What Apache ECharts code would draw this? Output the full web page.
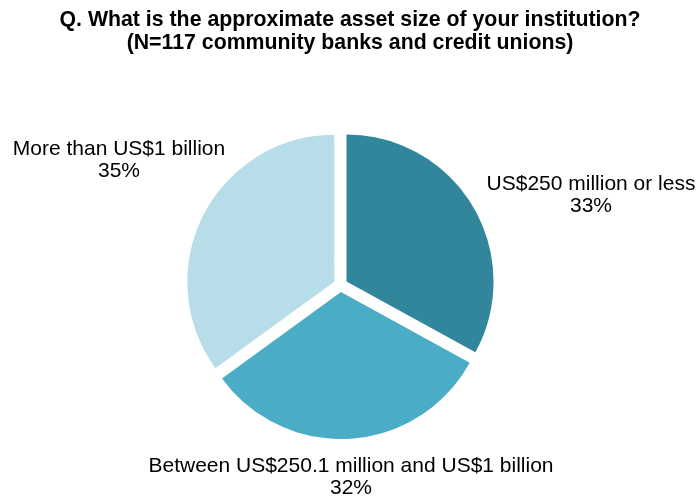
<!DOCTYPE html>
<html>
<head>
<meta charset="utf-8">
<script src="https://cdn.jsdelivr.net/npm/echarts@6/dist/echarts.min.js"></script>
<style>
  html, body { margin: 0; padding: 0; background: #fff; }
  #chart { width: 700px; height: 498px; }
</style>
</head>
<body>
<div id="chart"></div>
<script>
// Asset size of responding institutions (share of respondents, %)
const categories = [
  'US$250 million or less',
  'Between US$250.1 million and US$1 billion',
  'More than US$1 billion'
];
const shares = [33, 32, 35];
const sliceColors = ['#31869B', '#4BACC6', '#B7DEE8'];
const titleLines = [
  'Q. What is the approximate asset size of your institution?',
  '(N=117 community banks and credit unions)'
];
// Label anchor points (centre of each two-line label)
const labelAnchors = [[591, 195], [351, 477], [119, 160]];

const PIE_CENTER = [340.5, 285];
const EXPLODE = 7;

// Offset each exploded slice (and its label) is pushed by, along its mid-angle
const total = shares.reduce((s, v) => s + v, 0);
let acc = 0;
const sliceShift = shares.map(v => {
  const mid = (acc + v / 2) / total * 2 * Math.PI; // clockwise from 12 o'clock
  acc += v;
  return [EXPLODE * Math.sin(mid), -EXPLODE * Math.cos(mid)];
});

const chart = echarts.init(document.getElementById('chart'), null, { renderer: 'canvas' });

chart.setOption({
  animation: false,
  backgroundColor: '#ffffff',
  title: {
    text: titleLines.join('\n'),
    left: 'center',
    top: 4,
    textStyle: {
      fontFamily: 'Liberation Sans, Arial, sans-serif',
      fontSize: 21.3,
      fontWeight: 'bold',
      color: '#000',
      lineHeight: 23
    }
  },
  series: [{
    type: 'pie',
    center: PIE_CENTER,
    radius: 147,
    startAngle: 90,
    clockwise: true,
    selectedMode: 'multiple',
    selectedOffset: EXPLODE,
    emphasis: { disabled: true },
    itemStyle: { borderWidth: 0 },
    label: {
      show: true,
      position: 'outside',
      formatter: p => p.name + '\n' + p.value + '%',
      fontFamily: 'Liberation Sans, Arial, sans-serif',
      fontSize: 21,
      lineHeight: 22,
      color: '#000',
      overflow: 'none'
    },
    labelLine: { show: false },
    // centre each label's text on its anchor point
    labelLayout: p => {
      const r = p.labelRect;
      const a = labelAnchors[p.dataIndex];
      const s = sliceShift[p.dataIndex];
      const side = p.align || ((r.x + r.width / 2) < PIE_CENTER[0] ? 'right' : 'left');
      const anchorX = side === 'right' ? r.x + r.width
        : side === 'left' ? r.x : r.x + r.width / 2;
      return {
        align: 'center',
        dx: a[0] - anchorX - s[0],
        dy: a[1] - (r.y + r.height / 2) - s[1]
      };
    },
    data: categories.map((name, i) => ({
      name: name,
      value: shares[i],
      selected: true,
      itemStyle: { color: sliceColors[i] }
    }))
  }]
});
</script>
</body>
</html>
